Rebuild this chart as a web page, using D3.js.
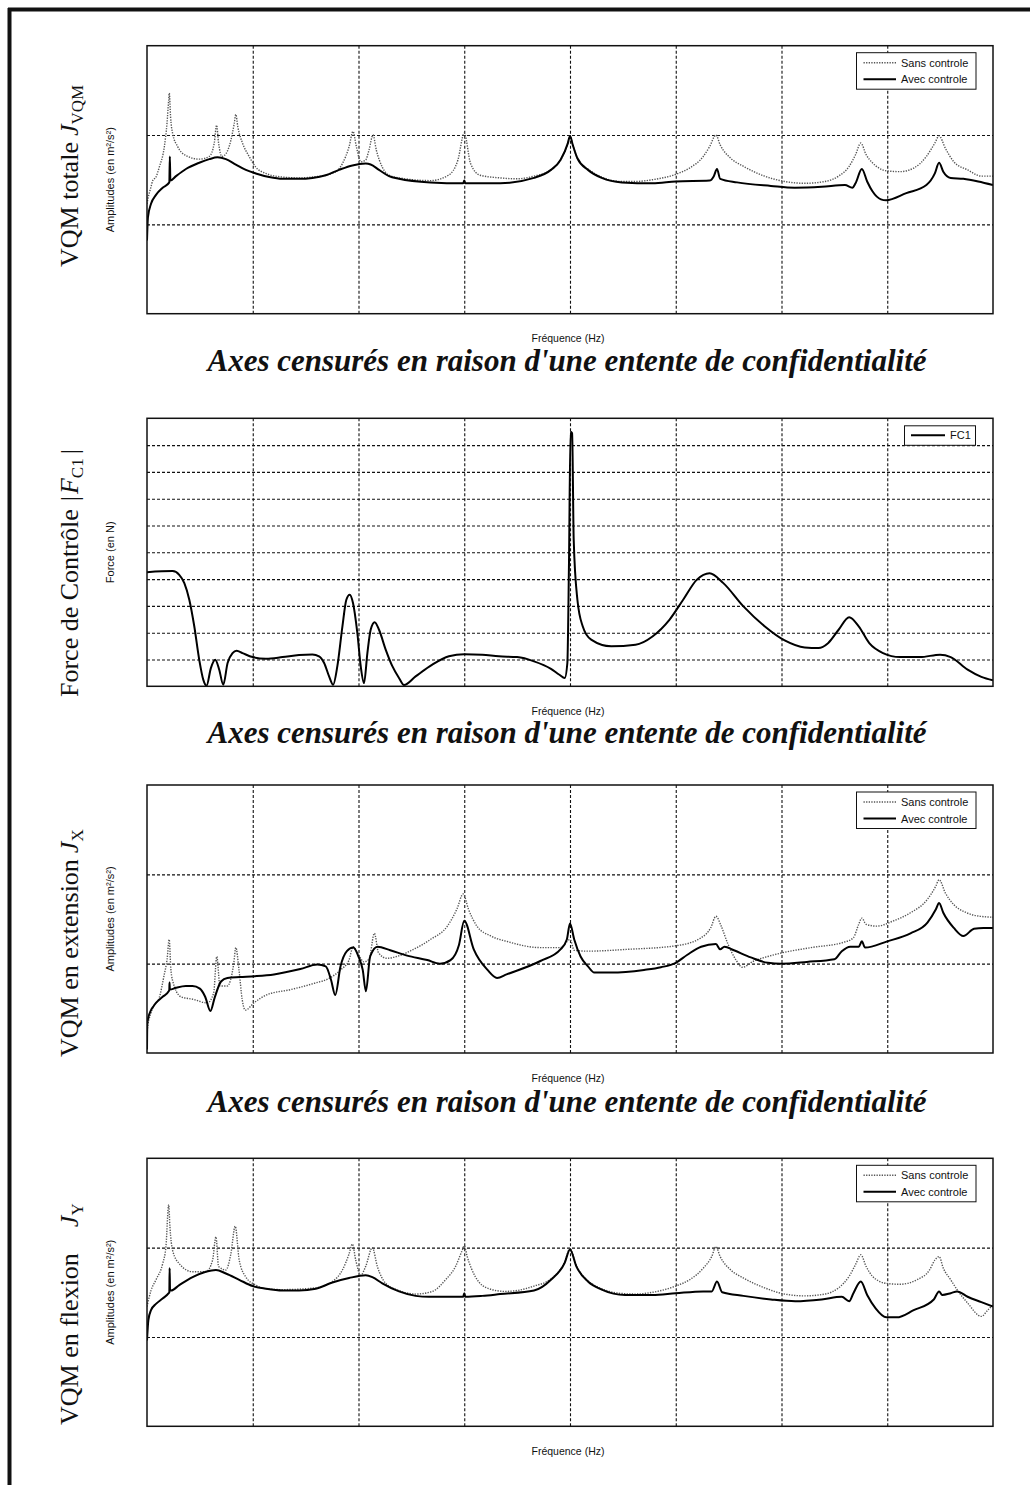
<!DOCTYPE html>
<html><head><meta charset="utf-8">
<script src="https://cdn.jsdelivr.net/npm/d3@7"></script>
<style>
html,body{margin:0;padding:0;background:#fff;}
svg{display:block;}
</style></head><body>
<svg id="fig" width="1032" height="1485"></svg>
<script>
// Frequency axis runs over 8 grid divisions; the numeric scales are withheld (confidential),
// so every curve is expressed in grid units: x in [0, 8], y in [0, 3] or [0, 10].

// ---- VQM totale J_VQM ----
const totalSans = [[0,1.23],[0.006,1.27],[0.038,1.42],[0.054,1.49],[0.085,1.53],[0.116,1.64],[0.164,1.87],[0.189,2.13],[0.205,2.39],[0.211,2.47],[0.223,2.20],[0.242,2.02],[0.290,1.87],[0.368,1.77],[0.494,1.73],[0.589,1.76],[0.636,1.91],[0.658,2.11],[0.677,1.91],[0.708,1.76],[0.746,1.79],[0.793,1.94],[0.825,2.13],[0.840,2.23],[0.859,2.09],[0.903,1.91],[0.966,1.76],[1.029,1.64],[1.124,1.57],[1.281,1.53],[1.438,1.52],[1.564,1.53],[1.753,1.57],[1.848,1.68],[1.911,1.87],[1.948,2.04],[1.980,1.87],[2.021,1.70],[2.068,1.72],[2.099,1.83],[2.137,2.00],[2.169,1.83],[2.225,1.64],[2.288,1.55],[2.383,1.52],[2.68,1.49],[2.85,1.55],[2.94,1.72],[3.0,2.02],[3.06,1.68],[3.15,1.55],[3.34,1.52],[3.50,1.51],[3.66,1.54],[3.82,1.61],[3.91,1.72],[3.98,1.91],[4.0,1.99],[4.026,1.89],[4.07,1.74],[4.17,1.62],[4.30,1.53],[4.49,1.48],[4.62,1.48],[4.78,1.50],[5.0,1.56],[5.13,1.63],[5.26,1.76],[5.32,1.87],[5.38,2.00],[5.42,1.89],[5.52,1.74],[5.64,1.65],[5.84,1.54],[6.03,1.48],[6.22,1.46],[6.41,1.48],[6.54,1.54],[6.64,1.65],[6.70,1.78],[6.75,1.91],[6.80,1.78],[6.86,1.69],[6.99,1.60],[7.12,1.59],[7.25,1.63],[7.37,1.76],[7.45,1.91],[7.49,1.99],[7.55,1.85],[7.63,1.70],[7.76,1.61],[7.89,1.54],[8.0,1.54]];
const totalAvec = [[0,0.82],[0.009,1.08],[0.038,1.23],[0.085,1.33],[0.148,1.41],[0.211,1.47],[0.216,1.76],[0.221,1.49],[0.274,1.54],[0.368,1.62],[0.494,1.69],[0.589,1.73],[0.667,1.75],[0.746,1.73],[0.840,1.67],[0.935,1.61],[1.029,1.57],[1.155,1.53],[1.281,1.51],[1.438,1.51],[1.564,1.52],[1.690,1.55],[1.816,1.61],[1.942,1.66],[2.068,1.68],[2.115,1.67],[2.194,1.61],[2.288,1.54],[2.383,1.51],[2.68,1.47],[2.99,1.46],[3.0,1.49],[3.01,1.46],[3.34,1.46],[3.66,1.52],[3.82,1.61],[3.91,1.72],[3.98,1.91],[4.0,1.99],[4.026,1.89],[4.07,1.74],[4.17,1.61],[4.30,1.52],[4.49,1.47],[4.78,1.46],[5.0,1.48],[5.32,1.49],[5.36,1.54],[5.39,1.62],[5.42,1.51],[5.58,1.47],[5.90,1.43],[6.125,1.41],[6.38,1.42],[6.60,1.44],[6.67,1.41],[6.70,1.46],[6.76,1.62],[6.81,1.48],[6.86,1.37],[6.94,1.28],[6.99,1.27],[7.18,1.35],[7.37,1.44],[7.45,1.57],[7.49,1.69],[7.53,1.59],[7.60,1.52],[7.72,1.51],[7.86,1.48],[8.0,1.44]];

// ---- Force de contrôle |F_C1| ----
const forceFC1 = [[0,4.26],[0.242,4.30],[0.305,4.16],[0.353,3.85],[0.400,3.23],[0.447,2.24],[0.494,0.99],[0.532,0.25],[0.563,0.02],[0.604,0.68],[0.645,0.99],[0.683,0.62],[0.721,0.06],[0.762,0.87],[0.809,1.24],[0.847,1.33],[0.903,1.24],[0.998,1.09],[1.124,1.03],[1.281,1.09],[1.438,1.17],[1.564,1.19],[1.627,1.12],[1.675,0.87],[1.722,0.37],[1.760,0.06],[1.800,0.75],[1.848,2.24],[1.885,3.23],[1.917,3.42],[1.948,3.11],[1.989,1.99],[2.021,0.75],[2.052,0.12],[2.084,1.24],[2.115,2.11],[2.153,2.39],[2.194,2.11],[2.257,1.37],[2.320,0.75],[2.383,0.31],[2.430,0.05],[2.540,0.37],[2.698,0.81],[2.855,1.12],[3.000,1.20],[3.170,1.18],[3.327,1.12],[3.50,1.09],[3.66,0.93],[3.82,0.65],[3.90,0.43],[3.95,0.31],[3.975,0.87],[3.99,4.47],[4.005,9.50],[4.02,9.44],[4.035,5.47],[4.07,3.23],[4.12,2.24],[4.20,1.74],[4.39,1.49],[4.62,1.55],[4.78,1.86],[4.94,2.48],[5.07,3.23],[5.20,3.98],[5.32,4.22],[5.45,3.85],[5.64,2.98],[5.84,2.24],[6.03,1.71],[6.22,1.45],[6.35,1.43],[6.44,1.61],[6.54,2.11],[6.64,2.58],[6.73,2.24],[6.83,1.61],[6.96,1.24],[7.12,1.09],[7.31,1.09],[7.50,1.18],[7.60,1.09],[7.76,0.62],[7.89,0.35],[8.0,0.22]];

// ---- VQM en extension J_X ----
const extSans = [[0,0.07],[0.003,0.26],[0.038,0.45],[0.06,0.52],[0.116,0.62],[0.16,0.86],[0.19,1.05],[0.21,1.27],[0.225,0.95],[0.24,0.82],[0.32,0.63],[0.44,0.60],[0.57,0.56],[0.63,0.67],[0.66,1.08],[0.69,0.75],[0.76,0.75],[0.82,1.00],[0.84,1.18],[0.87,0.93],[0.90,0.60],[0.93,0.48],[1.01,0.56],[1.13,0.65],[1.36,0.71],[1.58,0.78],[1.73,0.84],[1.83,0.93],[1.91,1.04],[1.95,1.19],[2.0,1.10],[2.05,1.02],[2.10,1.05],[2.15,1.34],[2.19,1.12],[2.27,1.06],[2.36,1.08],[2.52,1.16],[2.68,1.27],[2.84,1.42],[2.93,1.61],[2.99,1.78],[3.04,1.61],[3.12,1.42],[3.25,1.31],[3.40,1.25],[3.72,1.18],[3.91,1.18],[4.0,1.27],[4.04,1.15],[4.17,1.14],[4.54,1.16],[5.0,1.20],[5.24,1.29],[5.33,1.40],[5.38,1.53],[5.43,1.42],[5.49,1.23],[5.57,1.04],[5.63,0.96],[5.74,1.03],[5.87,1.08],[6.0,1.12],[6.28,1.18],[6.59,1.24],[6.68,1.29],[6.73,1.44],[6.76,1.51],[6.80,1.44],[6.90,1.42],[7.06,1.48],[7.22,1.57],[7.38,1.72],[7.46,1.87],[7.49,1.94],[7.55,1.79],[7.63,1.66],[7.75,1.57],[7.88,1.53],[8.0,1.52]];
const extAvec = [[0,0.04],[0.003,0.34],[0.038,0.48],[0.06,0.52],[0.085,0.56],[0.148,0.63],[0.205,0.69],[0.211,0.71],[0.213,0.79],[0.216,0.71],[0.274,0.73],[0.368,0.75],[0.43,0.75],[0.50,0.72],[0.55,0.63],[0.60,0.47],[0.64,0.62],[0.70,0.80],[0.76,0.84],[0.88,0.85],[1.02,0.86],[1.20,0.88],[1.45,0.94],[1.61,0.99],[1.69,0.97],[1.74,0.82],[1.78,0.65],[1.83,0.97],[1.89,1.14],[1.95,1.18],[2.0,1.08],[2.04,0.93],[2.07,0.69],[2.11,1.08],[2.18,1.19],[2.30,1.15],[2.46,1.09],[2.65,1.04],[2.77,1.00],[2.87,1.04],[2.95,1.21],[3.0,1.48],[3.09,1.16],[3.22,0.93],[3.31,0.84],[3.40,0.88],[3.72,1.03],[3.91,1.16],[3.97,1.27],[4.0,1.45],[4.04,1.27],[4.10,1.08],[4.17,0.97],[4.23,0.90],[4.39,0.90],[4.70,0.93],[4.86,0.96],[5.0,1.01],[5.11,1.10],[5.24,1.19],[5.38,1.22],[5.42,1.16],[5.46,1.19],[5.55,1.15],[5.71,1.07],[5.87,1.01],[6.0,1.00],[6.24,1.02],[6.50,1.05],[6.57,1.14],[6.65,1.19],[6.73,1.19],[6.76,1.25],[6.79,1.18],[7.0,1.25],[7.22,1.34],[7.38,1.46],[7.46,1.61],[7.49,1.68],[7.53,1.57],[7.63,1.40],[7.72,1.31],[7.82,1.39],[7.91,1.40],[8.0,1.40]];

// ---- VQM en flexion J_Y ----
const flexSans = [[0,1.34],[0.038,1.52],[0.085,1.64],[0.148,1.82],[0.179,2.01],[0.205,2.48],[0.217,2.23],[0.242,1.97],[0.305,1.82],[0.431,1.73],[0.557,1.73],[0.620,1.86],[0.652,2.12],[0.677,1.79],[0.746,1.75],[0.793,1.93],[0.834,2.24],[0.872,1.86],[0.935,1.67],[1.029,1.58],[1.124,1.54],[1.281,1.53],[1.596,1.55],[1.753,1.62],[1.848,1.75],[1.911,1.93],[1.942,2.04],[1.974,1.86],[2.021,1.69],[2.068,1.79],[2.131,2.00],[2.178,1.79],[2.257,1.60],[2.383,1.52],[2.540,1.48],[2.698,1.51],[2.823,1.64],[2.918,1.79],[2.981,1.97],[3.0,2.02],[3.028,1.90],[3.107,1.67],[3.233,1.54],[3.390,1.51],[3.50,1.52],[3.66,1.57],[3.82,1.65],[3.95,1.84],[4.0,1.99],[4.06,1.80],[4.17,1.63],[4.30,1.54],[4.46,1.49],[4.62,1.48],[4.78,1.50],[5.0,1.57],[5.13,1.64],[5.26,1.77],[5.34,1.90],[5.38,2.01],[5.42,1.90],[5.52,1.75],[5.64,1.66],[5.84,1.55],[6.03,1.48],[6.22,1.46],[6.41,1.48],[6.54,1.55],[6.64,1.68],[6.70,1.81],[6.75,1.92],[6.80,1.79],[6.86,1.68],[6.99,1.60],[7.12,1.59],[7.28,1.64],[7.40,1.75],[7.45,1.86],[7.49,1.90],[7.53,1.77],[7.60,1.64],[7.66,1.53],[7.76,1.38],[7.89,1.23],[7.95,1.30],[8.0,1.36]];
const flexAvec = [[0,0.96],[0.013,1.19],[0.038,1.30],[0.085,1.37],[0.148,1.43],[0.205,1.49],[0.211,1.50],[0.214,1.77],[0.218,1.52],[0.227,1.52],[0.305,1.58],[0.431,1.67],[0.557,1.73],[0.652,1.75],[0.746,1.71],[0.872,1.64],[0.998,1.57],[1.124,1.54],[1.281,1.52],[1.438,1.52],[1.596,1.54],[1.753,1.61],[1.911,1.66],[2.068,1.69],[2.131,1.67],[2.225,1.60],[2.383,1.51],[2.540,1.46],[2.666,1.45],[2.855,1.45],[2.99,1.45],[3.0,1.49],[3.01,1.45],[3.17,1.46],[3.34,1.48],[3.66,1.52],[3.82,1.64],[3.95,1.83],[4.0,1.98],[4.06,1.79],[4.17,1.62],[4.30,1.53],[4.52,1.47],[4.78,1.47],[5.0,1.49],[5.26,1.51],[5.34,1.51],[5.39,1.62],[5.44,1.50],[5.64,1.46],[5.90,1.42],[6.13,1.40],[6.38,1.42],[6.57,1.45],[6.64,1.40],[6.68,1.49],[6.75,1.62],[6.81,1.47],[6.89,1.32],[6.99,1.22],[7.09,1.22],[7.25,1.30],[7.44,1.42],[7.49,1.51],[7.52,1.47],[7.60,1.49],[7.66,1.51],[7.76,1.45],[7.89,1.39],[8.0,1.34]];

// Grid ticks (labels are withheld, so they are rendered empty)
const freqTicks = [0, 1, 2, 3, 4, 5, 6, 7, 8];
const vqmTicks = [0, 1, 2, 3];
const forceTicks = [0, 1, 2, 3, 4, 5, 6, 7, 8, 9, 10];

const seriesNames = ["Sans controle", "Avec controle"];
const forceName = "FC1";
const freqLabel = "Fréquence (Hz)";
const censorNote = "Axes censurés en raison d'une entente de confidentialité";

// ------------------------------------------------------------------
const svg = d3.select("#fig");
const SERIF = "'Liberation Serif','Times New Roman',serif";
const SANS = "'Liberation Sans',Arial,sans-serif";

const X0 = 147, X1 = 993, H = 268;

// page frame (top and left rules)
svg.append("line").attr("x1", 8).attr("x2", 1030).attr("y1", 9.5).attr("y2", 9.5)
  .attr("stroke", "#111").attr("stroke-width", 4);
svg.append("line").attr("x1", 9.5).attr("x2", 9.5).attr("y1", 8).attr("y2", 1485)
  .attr("stroke", "#111").attr("stroke-width", 4);

// title parts: [text, kind, dx]
const panels = [
  { id: "p1", top: 45.7, yMax: 3, yTicks: vqmTicks, series: [{d: totalSans, dotted: true}, {d: totalAvec}],
    legend: seriesNames, ylab: "Amplitudes (en m²/s²)", freqY: 342, noteY: 371,
    title: {start: 267, parts: [["VQM totale", "n", 0], ["J", "i", 6], ["VQM", "sub", 0]]} },
  { id: "p2", top: 418.3, yMax: 10, yTicks: forceTicks, series: [{d: forceFC1}],
    legend: [forceName], ylab: "Force (en N)", freqY: 715, noteY: 743,
    title: {start: 697, parts: [["Force de Contrôle", "n", 0], ["|", "n", 8], ["F", "i", 2], ["C1", "sub", 0], ["|", "up", 4]]} },
  { id: "p3", top: 785, yMax: 3, yTicks: vqmTicks, series: [{d: extSans, dotted: true}, {d: extAvec}],
    legend: seriesNames, ylab: "Amplitudes (en m²/s²)", freqY: 1082, noteY: 1112,
    title: {start: 1057, parts: [["VQM en extension", "n", 0], ["J", "i", 6], ["X", "sub", 0]]} },
  { id: "p4", top: 1158.3, yMax: 3, yTicks: vqmTicks, series: [{d: flexSans, dotted: true}, {d: flexAvec}],
    legend: seriesNames, ylab: "Amplitudes (en m²/s²)", freqY: 1455, noteY: null,
    title: {start: 1425, parts: [["VQM en flexion", "n", 0], ["J", "i", 26], ["Y", "sub", 0]]} }
];

panels.forEach(p => {
  const x = d3.scaleLinear().domain([0, 8]).range([X0, X1]);
  const y = d3.scaleLinear().domain([0, p.yMax]).range([p.top + H, p.top]);

  const g = svg.append("g");

  // dashed grid through the axes
  g.append("g").attr("transform", `translate(0,${p.top + H})`)
    .call(d3.axisBottom(x).tickValues(freqTicks.slice(1, -1)).tickSizeInner(-H).tickSizeOuter(0).tickFormat(""))
    .call(s => { s.select(".domain").remove();
      s.selectAll(".tick line").attr("stroke", "#111").attr("stroke-width", 1.1).attr("stroke-dasharray", "3,2"); });
  g.append("g").attr("transform", `translate(${X0},0)`)
    .call(d3.axisLeft(y).tickValues(p.yTicks.slice(1, -1)).tickSizeInner(-(X1 - X0)).tickSizeOuter(0).tickFormat(""))
    .call(s => { s.select(".domain").remove();
      s.selectAll(".tick line").attr("stroke", "#111").attr("stroke-width", 1.1).attr("stroke-dasharray", "3,2"); });

  // curves
  g.append("clipPath").attr("id", "clip-" + p.id).append("rect")
    .attr("x", X0).attr("y", p.top).attr("width", X1 - X0).attr("height", H);
  const plot = g.append("g").attr("clip-path", `url(#clip-${p.id})`);
  p.series.forEach(s => {
    const line = d3.line().x(d => x(d[0])).y(d => y(d[1])).curve(d3.curveMonotoneX);
    plot.append("path").datum(s.d).attr("d", line).attr("fill", "none")
      .attr("stroke", s.dotted ? "#555" : "#000")
      .attr("stroke-width", s.dotted ? 1.4 : 2)
      .attr("stroke-linejoin", "round")
      .attr("stroke-dasharray", s.dotted ? "1.3,1.3" : null);
  });

  // frame
  g.append("rect").attr("x", X0).attr("y", p.top).attr("width", X1 - X0).attr("height", H)
    .attr("fill", "none").attr("stroke", "#111").attr("stroke-width", 1.5);

  // legend
  if (p.legend.length === 2) {
    const lx = 856.5, ly = p.top + 7;
    g.append("rect").attr("x", lx).attr("y", ly).attr("width", 119.5).attr("height", 36.5)
      .attr("fill", "#fff").attr("stroke", "#111").attr("stroke-width", 1);
    p.legend.forEach((name, i) => {
      const yy = ly + 10 + i * 16.5;
      g.append("line").attr("x1", lx + 7).attr("x2", lx + 39.5).attr("y1", yy).attr("y2", yy)
        .attr("stroke", i === 0 ? "#555" : "#000").attr("stroke-width", i === 0 ? 1.4 : 2)
        .attr("stroke-dasharray", i === 0 ? "1.3,1.3" : null);
      g.append("text").attr("x", lx + 44.5).attr("y", yy + 4).attr("font-family", SANS)
        .attr("font-size", 11).attr("fill", "#111").text(name);
    });
  } else {
    const lx = 904.5, ly = p.top + 7.5;
    g.append("rect").attr("x", lx).attr("y", ly).attr("width", 71).attr("height", 19.5)
      .attr("fill", "#fff").attr("stroke", "#111").attr("stroke-width", 1);
    const yy = ly + 9.5;
    g.append("line").attr("x1", lx + 6.5).attr("x2", lx + 40.5).attr("y1", yy).attr("y2", yy)
      .attr("stroke", "#000").attr("stroke-width", 2);
    g.append("text").attr("x", lx + 45.5).attr("y", yy + 4).attr("font-family", SANS)
      .attr("font-size", 11).attr("fill", "#111").text(p.legend[0]);
  }

  // frequency label
  g.append("text").attr("x", 568).attr("y", p.freqY).attr("text-anchor", "middle")
    .attr("font-family", SANS).attr("font-size", 10.5).attr("fill", "#111").text(freqLabel);

  // small rotated unit label
  const cy = p.top + H / 2;
  g.append("text").attr("transform", `translate(113.5,${cy}) rotate(-90)`).attr("text-anchor", "middle")
    .attr("font-family", SANS).attr("font-size", 11).attr("fill", "#111").text(p.ylab);

  // large rotated quantity name
  const t = g.append("text").attr("transform", `translate(78,${p.title.start}) rotate(-90)`)
    .attr("font-family", SERIF).attr("font-size", 26).attr("fill", "#111");
  p.title.parts.forEach(([txt, kind, dx]) => {
    const ts = t.append("tspan").text(txt);
    if (dx) ts.attr("dx", dx);
    if (kind === "i") ts.attr("font-style", "italic");
    if (kind === "sub") ts.attr("font-size", 17).attr("dy", 5);
    if (kind === "up") ts.attr("dy", -5);
  });

  // confidentiality note
  if (p.noteY) {
    g.append("text").attr("x", 567).attr("y", p.noteY).attr("text-anchor", "middle")
      .attr("font-family", SERIF).attr("font-size", 31).attr("font-weight", "bold")
      .attr("font-style", "italic").attr("fill", "#111").text(censorNote);
  }
});
</script>
</body></html>
